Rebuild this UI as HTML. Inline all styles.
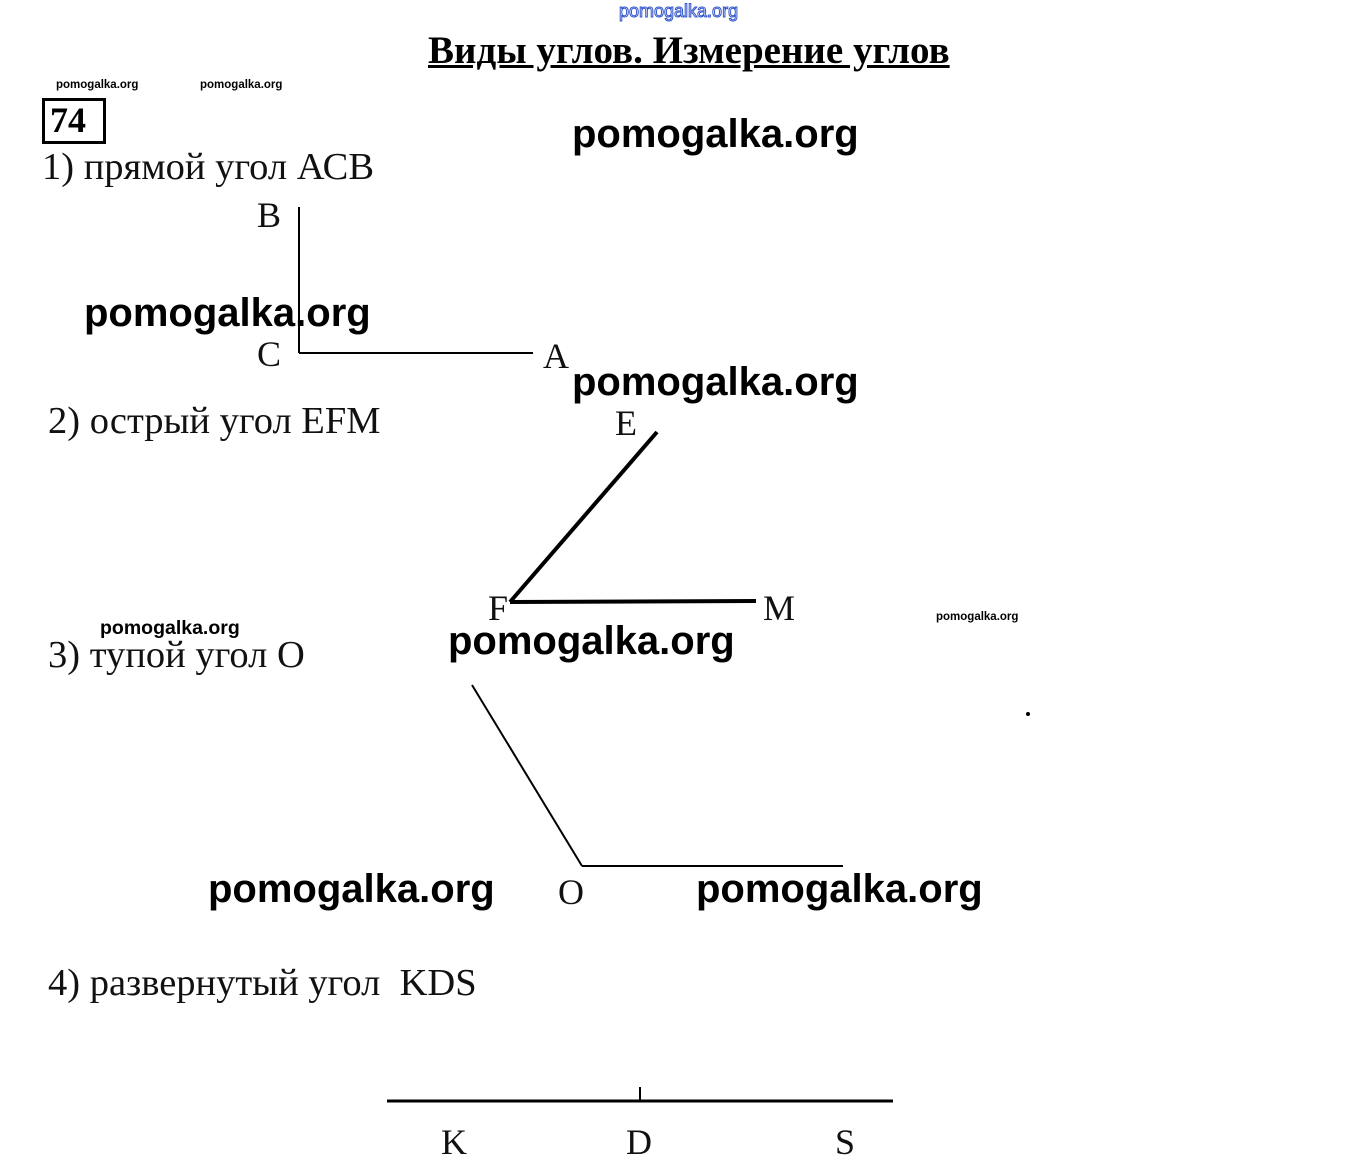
<!DOCTYPE html>
<html><head><meta charset="utf-8"><style>
body{margin:0;width:1352px;height:1170px;background:#fff;position:relative;overflow:hidden}
div{position:absolute;white-space:nowrap;line-height:1}
.s{font-family:"Liberation Serif",serif;font-size:38.5px;color:#111}
.l{font-family:"Liberation Serif",serif;font-size:36px;color:#111}
.w{font-family:"Liberation Sans",sans-serif;font-weight:bold;font-size:40px;color:#000}
.ws{font-family:"Liberation Sans",sans-serif;font-weight:bold;font-size:11.5px;color:#000}
</style></head><body>
<div style="left:619px;top:2px;font-family:'Liberation Sans',sans-serif;font-size:18px;color:#fff;-webkit-text-stroke:1px #3355cc">pomogalka.org</div>
<div style="left:428px;top:31px;font-family:'Liberation Serif',serif;font-weight:bold;font-size:39px;text-decoration:underline;color:#000">Виды углов. Измерение углов</div>
<div class="ws" style="left:56px;top:80px">pomogalka.org</div>
<div class="ws" style="left:200px;top:80px">pomogalka.org</div>
<div class="ws" style="left:936px;top:612px">pomogalka.org</div>
<div style="left:42px;top:98px;width:58px;height:40px;border:3px solid #000"></div>
<div style="left:50px;top:102px;font-family:'Liberation Serif',serif;font-weight:bold;font-size:36px">74</div>
<div class="s" style="left:42px;top:148px">1) прямой угол АСВ</div>
<div class="s" style="left:48px;top:402px">2) острый угол EFM</div>
<div class="s" style="left:48px;top:636px">3) тупой угол O</div>
<div class="s" style="left:48px;top:964px">4) развернутый угол&nbsp; KDS</div>
<div class="l" style="left:257px;top:197px">B</div>
<div class="l" style="left:257px;top:336px">C</div>
<div class="l" style="left:543px;top:338px">A</div>
<div class="l" style="left:615px;top:405px">E</div>
<div class="l" style="left:488px;top:590px">F</div>
<div class="l" style="left:763px;top:590px">M</div>
<div class="l" style="left:558px;top:874px">O</div>
<div class="l" style="left:441px;top:1124px">K</div>
<div class="l" style="left:626px;top:1124px">D</div>
<div class="l" style="left:835px;top:1124px">S</div>
<svg width="1352" height="1170" style="position:absolute;left:0;top:0">
<g stroke="#000" fill="none">
<line x1="299" y1="207" x2="299" y2="353" stroke-width="2"/>
<line x1="299" y1="353" x2="533" y2="353" stroke-width="2"/>
<line x1="657" y1="432" x2="510" y2="602" stroke-width="4"/>
<line x1="510" y1="602" x2="756" y2="601" stroke-width="4"/>
<line x1="472" y1="685" x2="582" y2="866" stroke-width="2"/>
<line x1="582" y1="866" x2="843" y2="866" stroke-width="2"/>
<line x1="387" y1="1101" x2="893" y2="1101" stroke-width="3"/>
<line x1="640" y1="1087" x2="640" y2="1101" stroke-width="2"/>
</g>
<circle cx="1028" cy="714" r="2" fill="#000"/>
</svg>
<div class="w" style="left:572px;top:114px">pomogalka.org</div>
<div class="w" style="left:84px;top:293px">pomogalka.org</div>
<div class="w" style="left:572px;top:362px">pomogalka.org</div>
<div class="w" style="left:448px;top:621px">pomogalka.org</div>
<div class="w" style="left:208px;top:869px">pomogalka.org</div>
<div class="w" style="left:696px;top:869px">pomogalka.org</div>
<div class="ws" style="left:100px;top:619px;font-size:19.5px">pomogalka.org</div>
</body></html>
